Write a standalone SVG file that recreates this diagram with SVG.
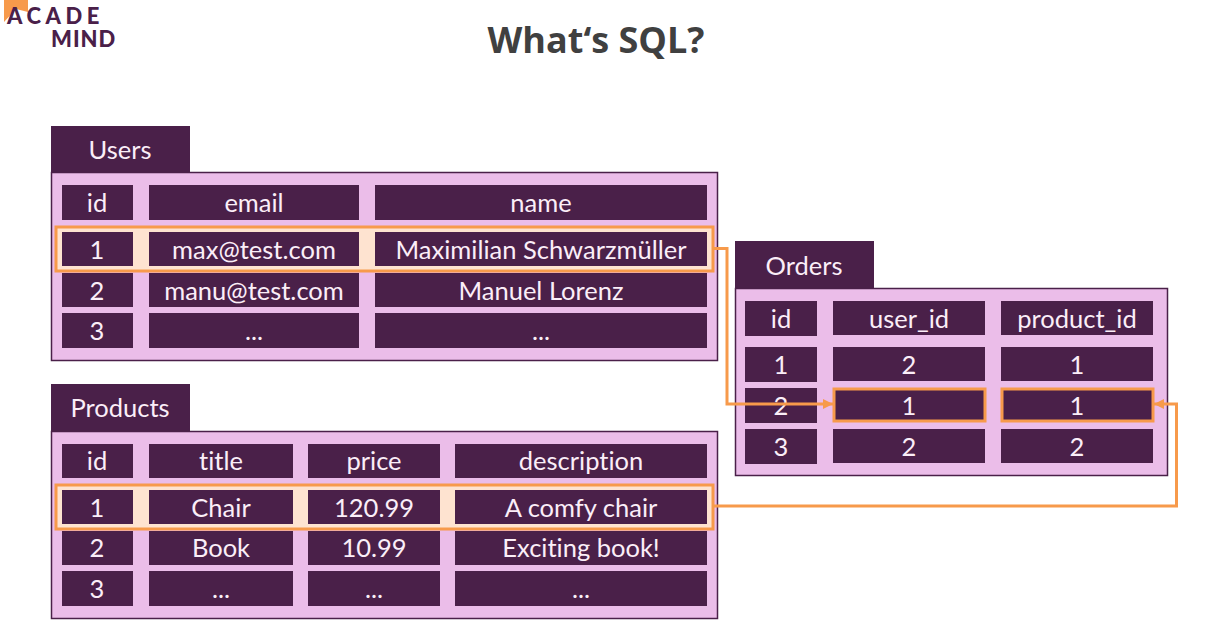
<svg xmlns="http://www.w3.org/2000/svg" width="1205" height="627" viewBox="0 0 1205 627">
<style>
text{font-family:"Lato","Noto Sans",sans-serif;font-variant-ligatures:none}
.p{fill:#ebbde9;stroke:#4a2049;stroke-width:1.5}
.c{fill:#4a2049}
.t{fill:#fbeef8;font-size:25.500px;text-anchor:middle;transform:translateY(1px)}
.h{fill:#fee3d0;stroke:#f79a4b;stroke-width:3}
.o{fill:none;stroke:#f79a4b;stroke-width:3}
.l{fill:#4a2049;font-weight:900;font-size:22px}
</style>
<defs>
<marker id="a" markerUnits="userSpaceOnUse" markerWidth="12" markerHeight="12" refX="10" refY="6" orient="auto"><path d="M0 1L10 6L0 11z" fill="#f79a4b"/></marker>
</defs>
<rect width="1205" height="627" fill="#fff"/>
<g id="logo">
<path d="M4 0H28V12L16 9L4 22z" fill="#f79a4b"/>
<text class="l" x="7" y="24" letter-spacing="4.500">ACADE</text>
<text class="l" x="51" y="47" letter-spacing="1">MIND</text>
</g>
<text x="596" y="53" text-anchor="middle" style="font-family:'Open Sans',sans-serif;font-weight:700;font-size:36px" fill="#404040">What‘s SQL?</text>

<g id="users">
<rect class="c" x="51" y="126" width="139" height="47"/>
<text class="t" x="120" y="158">Users</text>
<rect class="p" x="51.500" y="172.500" width="666" height="188"/>
<rect class="h" x="56" y="227" width="657" height="44"/>
<rect class="c" x="62" y="185" width="71" height="35"/><text class="t" x="97" y="211">id</text>
<rect class="c" x="149" y="185" width="210" height="35"/><text class="t" x="254" y="211">email</text>
<rect class="c" x="375" y="185" width="332" height="35"/><text class="t" x="541" y="211">name</text>
<rect class="c" x="62" y="232" width="71" height="34"/><text class="t" x="97" y="258">1</text>
<rect class="c" x="149" y="232" width="210" height="34"/><text class="t" x="254" y="258">max@test.com</text>
<rect class="c" x="375" y="232" width="332" height="34"/><text class="t" x="541" y="258">Maximilian Schwarzmüller</text>
<rect class="c" x="62" y="273" width="71" height="34"/><text class="t" x="97" y="299">2</text>
<rect class="c" x="149" y="273" width="210" height="34"/><text class="t" x="254" y="299">manu@test.com</text>
<rect class="c" x="375" y="273" width="332" height="34"/><text class="t" x="541" y="299">Manuel Lorenz</text>
<rect class="c" x="62" y="313" width="71" height="35"/><text class="t" x="97" y="339">3</text>
<rect class="c" x="149" y="313" width="210" height="35"/><text class="t" x="254" y="339">...</text>
<rect class="c" x="375" y="313" width="332" height="35"/><text class="t" x="541" y="339">...</text>
</g>

<g id="products">
<rect class="c" x="51" y="384" width="139" height="47"/>
<text class="t" x="120" y="416">Products</text>
<rect class="p" x="51.500" y="431.500" width="666" height="187"/>
<rect class="h" x="56" y="485" width="657" height="44"/>
<rect class="c" x="62" y="444" width="71" height="34"/><text class="t" x="97" y="469">id</text>
<rect class="c" x="149" y="444" width="144" height="34"/><text class="t" x="221" y="469">title</text>
<rect class="c" x="308" y="444" width="132" height="34"/><text class="t" x="374" y="469">price</text>
<rect class="c" x="455" y="444" width="252" height="34"/><text class="t" x="581" y="469">description</text>
<rect class="c" x="62" y="490" width="71" height="34"/><text class="t" x="97" y="516">1</text>
<rect class="c" x="149" y="490" width="144" height="34"/><text class="t" x="221" y="516">Chair</text>
<rect class="c" x="308" y="490" width="132" height="34"/><text class="t" x="374" y="516">120.99</text>
<rect class="c" x="455" y="490" width="252" height="34"/><text class="t" x="581" y="516">A comfy chair</text>
<rect class="c" x="62" y="531" width="71" height="34"/><text class="t" x="97" y="556">2</text>
<rect class="c" x="149" y="531" width="144" height="34"/><text class="t" x="221" y="556">Book</text>
<rect class="c" x="308" y="531" width="132" height="34"/><text class="t" x="374" y="556">10.99</text>
<rect class="c" x="455" y="531" width="252" height="34"/><text class="t" x="581" y="556">Exciting book!</text>
<rect class="c" x="62" y="571" width="71" height="35"/><text class="t" x="97" y="597">3</text>
<rect class="c" x="149" y="571" width="144" height="35"/><text class="t" x="221" y="597">...</text>
<rect class="c" x="308" y="571" width="132" height="35"/><text class="t" x="374" y="597">...</text>
<rect class="c" x="455" y="571" width="252" height="35"/><text class="t" x="581" y="597">...</text>
</g>

<g id="orders">
<rect class="c" x="735" y="241" width="139" height="47"/>
<text class="t" x="804" y="274">Orders</text>
<rect class="p" x="735.500" y="288.500" width="432" height="187"/>
<rect class="c" x="745" y="301" width="72" height="35"/><text class="t" x="781" y="327">id</text>
<rect class="c" x="833" y="301" width="152" height="34"/><text class="t" x="909" y="327">user_id</text>
<rect class="c" x="1001" y="301" width="152" height="34"/><text class="t" x="1077" y="327">product_id</text>
<rect class="c" x="745" y="347" width="72" height="35"/><text class="t" x="781" y="373">1</text>
<rect class="c" x="833" y="347" width="152" height="34"/><text class="t" x="909" y="373">2</text>
<rect class="c" x="1001" y="347" width="152" height="34"/><text class="t" x="1077" y="373">1</text>
<rect class="c" x="745" y="388" width="72" height="35"/><text class="t" x="781" y="414">2</text>
<rect class="c" x="834" y="389" width="151" height="32" stroke="#f79a4b" stroke-width="3"/><text class="t" x="909" y="414">1</text>
<rect class="c" x="1002" y="389" width="151" height="32" stroke="#f79a4b" stroke-width="3"/><text class="t" x="1077" y="414">1</text>
<rect class="c" x="745" y="429" width="72" height="35"/><text class="t" x="781" y="455">3</text>
<rect class="c" x="833" y="429" width="152" height="34"/><text class="t" x="909" y="455">2</text>
<rect class="c" x="1001" y="429" width="152" height="34"/><text class="t" x="1077" y="455">2</text>
</g>

<g id="connectors">
<path class="o" marker-end="url(#a)" d="M713 248.500H727V404H833"/>
<path class="o" marker-end="url(#a)" d="M713 506H1176.500V404H1154"/>
</g>
</svg>
